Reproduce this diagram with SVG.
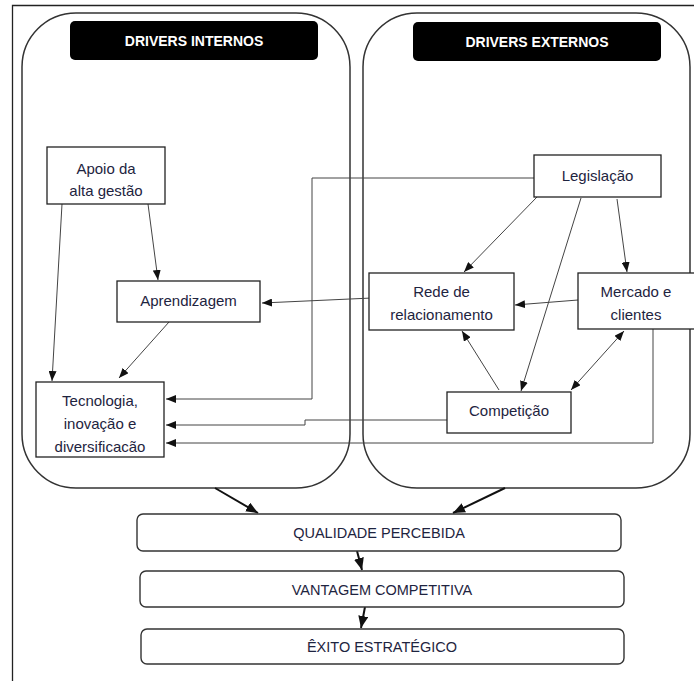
<svg xmlns="http://www.w3.org/2000/svg" width="694" height="681" viewBox="0 0 694 681">
<defs>
<marker id="arr" markerUnits="userSpaceOnUse" markerWidth="10" markerHeight="8" refX="10" refY="4" orient="auto-start-reverse">
<path d="M0,0 L10,4 L0,8 z" fill="#111"/>
</marker>
<marker id="arrB" markerUnits="userSpaceOnUse" markerWidth="12" markerHeight="10" refX="12" refY="5" orient="auto">
<path d="M0,0 L12,5 L0,10 z" fill="#111"/>
</marker>
<style>
.frame{fill:none;stroke:#222;stroke-width:1.3}
.cont{fill:none;stroke:#333;stroke-width:1.5}
.hdr{fill:#000}
.hdrt{font-family:"Liberation Sans",Arial,sans-serif;font-weight:bold;font-size:14px;fill:#fff;text-anchor:middle}
.box{fill:#fff;stroke:#222;stroke-width:1.3}
.rbox{fill:#fff;stroke:#333;stroke-width:1.4}
.t{font-family:"Liberation Sans",Arial,sans-serif;font-size:15px;fill:#1e2440;text-anchor:middle}
.tb{font-family:"Liberation Sans",Arial,sans-serif;font-size:14.5px;fill:#1e2440;text-anchor:middle}
.c{fill:none;stroke:#444;stroke-width:1;marker-end:url(#arr)}
.cb{fill:none;stroke:#111;stroke-width:2;marker-end:url(#arrB)}
</style>
</defs>
<rect width="694" height="681" fill="#fff"/>
<path class="frame" d="M12.5,681 V5.5 H694"/>

<g id="internos">
<rect class="cont" x="22" y="13" width="328" height="475" rx="54" ry="54"/>
<rect class="hdr" x="70" y="21" width="248" height="39" rx="5"/>
<text class="hdrt" x="194" y="46">DRIVERS INTERNOS</text>
</g>
<g id="externos">
<rect class="cont" x="363" y="13" width="327" height="475" rx="54" ry="54"/>
<rect class="hdr" x="413" y="22" width="248" height="39" rx="5"/>
<text class="hdrt" x="537" y="47">DRIVERS EXTERNOS</text>
</g>

<g id="connectors">
<path class="c" d="M534,178 H312 V399 H166"/>
<path class="c" d="M447,420 H305 V425 H166"/>
<path class="c" d="M653,329 V443 H166"/>
<path class="c" d="M62,204 L52,381"/>
<path class="c" d="M148,204 L158,280"/>
<path class="c" d="M169,322 L119,378"/>
<path class="c" d="M372,298 L262,303"/>
<path class="c" d="M578,300 L515,305"/>
<path class="c" d="M537,197 L464,272"/>
<path class="c" d="M581,198 L521,391"/>
<path class="c" d="M617,199 L627,272"/>
<path class="c" d="M499,390 L462,331"/>
<path class="c" style="marker-start:url(#arr)" d="M571,390 L624,331"/>
<path class="cb" d="M215,488 L258,513"/>
<path class="cb" d="M505,488 L453,513"/>
<path class="cb" d="M357,551 L362,570"/>
<path class="cb" d="M365,607 L361,628"/>
</g>

<g id="apoio">
<rect class="box" x="47" y="147" width="118" height="57"/>
<text class="t" x="106" y="174">Apoio da</text>
<text class="t" x="106" y="196">alta gestão</text>
</g>
<g id="aprendizagem">
<rect class="box" x="117" y="281" width="143" height="41"/>
<text class="t" x="188.5" y="306">Aprendizagem</text>
</g>
<g id="tecnologia">
<rect class="box" x="36" y="382" width="128" height="75"/>
<text class="t" x="100" y="406">Tecnologia,</text>
<text class="t" x="100" y="429">inovação e</text>
<text class="t" x="100" y="452">diversificacão</text>
</g>
<g id="legislacao">
<rect class="box" x="534" y="155" width="127" height="42"/>
<text class="t" x="597.5" y="181">Legislação</text>
</g>
<g id="rede">
<rect class="box" x="369" y="273" width="145" height="57"/>
<text class="t" x="441.5" y="297">Rede de</text>
<text class="t" x="441.5" y="320">relacionamento</text>
</g>
<g id="mercado">
<rect class="box" x="578" y="273" width="120" height="56"/>
<text class="t" x="636" y="297">Mercado e</text>
<text class="t" x="636" y="320">clientes</text>
</g>
<g id="competicao">
<rect class="box" x="447" y="392" width="124" height="41"/>
<text class="t" x="509" y="416">Competição</text>
</g>

<g id="qualidade">
<rect class="rbox" x="137" y="514" width="484" height="37" rx="6"/>
<text class="tb" x="379" y="538">QUALIDADE PERCEBIDA</text>
</g>
<g id="vantagem">
<rect class="rbox" x="140" y="571" width="484" height="36" rx="6"/>
<text class="tb" x="382" y="595">VANTAGEM COMPETITIVA</text>
</g>
<g id="exito">
<rect class="rbox" x="141" y="629" width="483" height="35" rx="6"/>
<text class="tb" x="382" y="652">ÊXITO ESTRATÉGICO</text>
</g>
</svg>
